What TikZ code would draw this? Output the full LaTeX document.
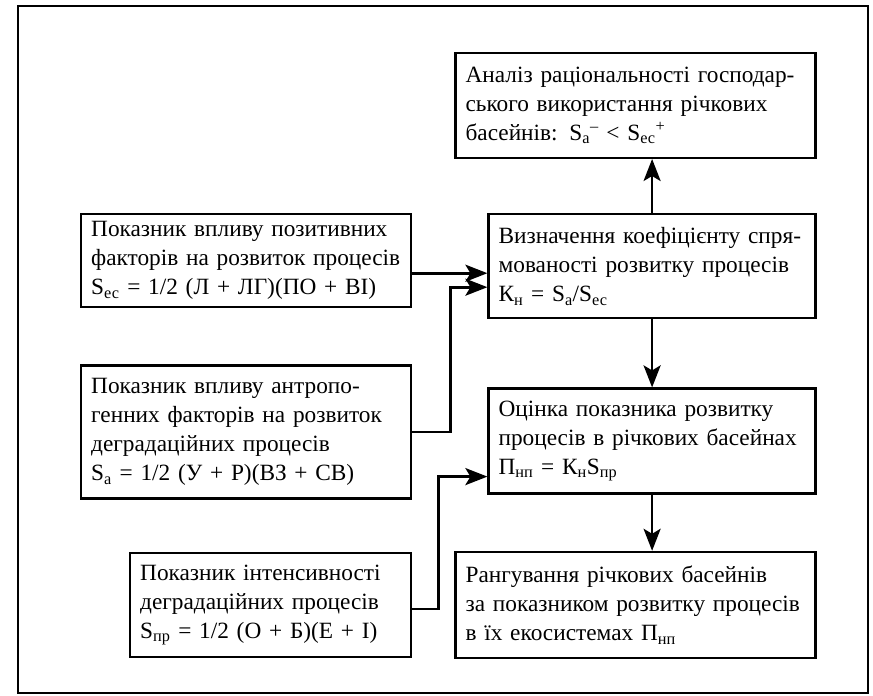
\documentclass[tikz,border=0pt]{standalone}
\usepackage{fontspec}
\setmainfont{Liberation Serif}
\usepackage{tikz}
\usetikzlibrary{
    arrows.meta,
    positioning
}

\begin{document}
\begin{tikzpicture}[
x=1pt, y=-1pt,
box/.style={
draw,
line width=2.4pt,
anchor=north west,
align=left,
inner xsep=10pt,
inner ysep=0pt,
font=\fontsize{23.3}{29}\selectfont
},
arr/.style={
line width=2.6pt,
-{Stealth[length=22pt, width=17pt, inset=5pt]}
}
]

\useasboundingbox (0,0) rectangle (873,696);
\draw[line width=2.6pt] (18,6) rectangle (868,693);

\node[box, text width=310pt, minimum height=93pt] at (80,213) (pos)
{Показник впливу позитивних\\
факторів на розвиток процесів\\
S\textsubscript{ес} = 1/2 (Л + ЛГ)(ПО + ВІ)};

\node[box, text width=310pt, minimum height=133pt,
below=56pt of pos.south west, anchor=north west] (anthr)
{Показник впливу антропо-\\
генних факторів на розвиток\\
деградаційних процесів\\
S\textsubscript{а} = 1/2 (У + Р)(ВЗ + СВ)};

\node[box, text width=261pt, minimum height=104pt,
below=52pt of anthr.south east, anchor=north east] (intens)
{Показник інтенсивності\\
деградаційних процесів\\
S\textsubscript{пр} = 1/2 (О + Б)(Е + І)};

\node[box, text width=307pt, minimum height=104pt,
right=75pt of pos.north east, anchor=north west] (coef)
{Визначення коефіцієнту спря-\\
мованості розвитку процесів\\
К\textsubscript{н} = S\textsubscript{а}/S\textsubscript{ес}};

\node[box, text width=340pt, minimum height=105pt,
above=54pt of coef.north east, anchor=south east] (anal)
{Аналіз раціональності господар-\\
ського використання річкових\\
басейнів: S\textsubscript{а}\textsuperscript{–} < S\textsubscript{ес}\textsuperscript{+}};

\node[box, text width=307pt, minimum height=105pt,
below=68pt of coef.south west, anchor=north west] (est)
{Оцінка показника розвитку\\
процесів в річкових басейнах\\
П\textsubscript{нп} = К\textsubscript{н}S\textsubscript{пр}};

\node[box, text width=340pt, minimum height=106pt,
below=56pt of est.south east, anchor=north east] (rank)
{Рангування річкових басейнів\\
за показником розвитку процесів\\
в їх екосистемах П\textsubscript{нп}};

% connectors
\draw[arr] ([yshift=-12.5pt]pos.east) -- ([yshift=-12.5pt]pos.east -| coef.west);
\draw[arr] (anthr.east) -- ++(38,0) |- ([yshift=-21pt]coef.west);
\draw[arr] ([yshift=-4pt]intens.east) -- ++(26,0) |- ([yshift=-35.5pt]est.west);
\draw[arr] (coef.north) -- (coef.north |- anal.south);
\draw[arr] (coef.south) -- (est.north);
\draw[arr] (est.south) -- (est.south |- rank.north);

\end{tikzpicture}
\end{document}
